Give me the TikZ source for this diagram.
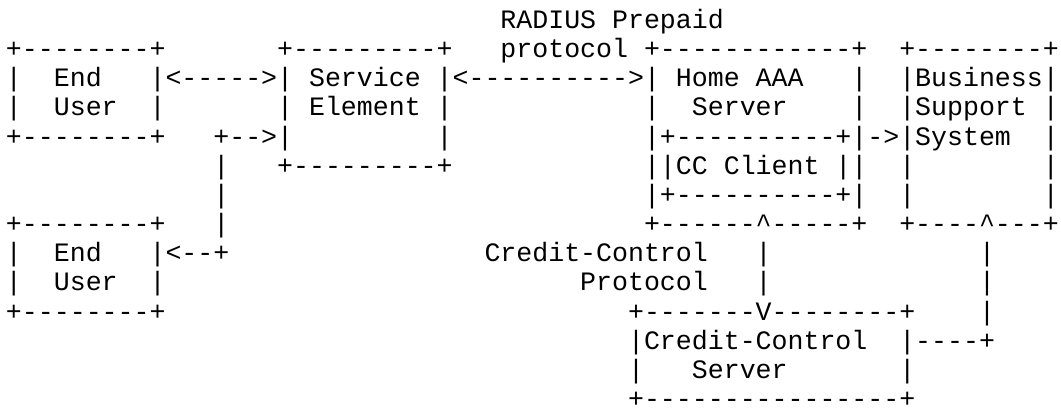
\documentclass[tikz,border=0pt]{standalone}
\usepackage{fontspec}
\newfontfamily\asciifont{Liberation Mono}[Ligatures=TeXOff]
\begin{document}
\begin{tikzpicture}[x=9.57pt, y=-17.502pt,
  ascii/.style={anchor=base west, inner sep=0pt, outer sep=0pt, font=\asciifont\fontsize{15.95pt}{17.5pt}\selectfont}]
\useasboundingbox (-0.376,0.026) rectangle (66.14,14.013);
\node[ascii] (radius) at (31,1) {RADIUS Prepaid};
\node[ascii] (eutop) at (0,2) {+--------+};
\node[ascii] (setop) at (17,2) {+---------+};
\node[ascii] (proto) at (31,2) {protocol +------------+};
\node[ascii] (bsstop) at (56,2) {+--------+};
\node[ascii] (euleft) at (0,3) {|};
\node[ascii] (euname) at (3,3) {End};
\node[ascii] (eulink) at (9,3) {|<----->|};
\node[ascii] (sename) at (19,3) {Service};
\node[ascii] (radlink) at (27,3) {|<---------->|};
\node[ascii] (aaaname) at (42,3) {Home AAA};
\node[ascii] (aaaright) at (53,3) {|};
\node[ascii] (bssname) at (56,3) {|Business|};
\node[ascii] (euleftb) at (0,4) {|};
\node[ascii] (eunameb) at (3,4) {User};
\node[ascii] (eurightb) at (9,4) {|};
\node[ascii] (seleft) at (17,4) {|};
\node[ascii] (senameb) at (19,4) {Element};
\node[ascii] (seright) at (27,4) {|};
\node[ascii] (aaaleft) at (40,4) {|};
\node[ascii] (aaanameb) at (43,4) {Server};
\node[ascii] (aaarightb) at (53,4) {|};
\node[ascii] (bssnameb) at (56,4) {|Support};
\node[ascii] (bssright) at (65,4) {|};
\node[ascii] (eubot) at (0,5) {+--------+};
\node[ascii] (splitin) at (13,5) {+-->|};
\node[ascii] (serightb) at (27,5) {|};
\node[ascii] (cctop) at (40,5) {|+----------+|->|System};
\node[ascii] (bssrightb) at (65,5) {|};
\node[ascii] (splitup) at (13,6) {|};
\node[ascii] (sebot) at (17,6) {+---------+};
\node[ascii] (ccname) at (40,6) {||CC Client};
\node[ascii] (ccright) at (52,6) {||};
\node[ascii] (bssleftc) at (56,6) {|};
\node[ascii] (bssrightc) at (65,6) {|};
\node[ascii] (splitmid) at (13,7) {|};
\node[ascii] (ccbot) at (40,7) {|+----------+|};
\node[ascii] (bssleftd) at (56,7) {|};
\node[ascii] (bssrightd) at (65,7) {|};
\node[ascii] (eutopb) at (0,8) {+--------+};
\node[ascii] (splitlow) at (13,8) {|};
\node[ascii] (aaabot) at (40,8) {+------\textasciicircum-----+};
\node[ascii] (bssbot) at (56,8) {+----\textasciicircum---+};
\node[ascii] (euleftc) at (0,9) {|};
\node[ascii] (eunamec) at (3,9) {End};
\node[ascii] (splitout) at (9,9) {|<--+};
\node[ascii] (ccplabel) at (30,9) {Credit-Control};
\node[ascii] (ccpa) at (47,9) {|};
\node[ascii] (bsslinka) at (61,9) {|};
\node[ascii] (euleftd) at (0,10) {|};
\node[ascii] (eunamed) at (3,10) {User};
\node[ascii] (eurightd) at (9,10) {|};
\node[ascii] (ccplabelb) at (36,10) {Protocol};
\node[ascii] (ccpb) at (47,10) {|};
\node[ascii] (bsslinkb) at (61,10) {|};
\node[ascii] (eubotb) at (0,11) {+--------+};
\node[ascii] (ccstop) at (39,11) {+-------V--------+};
\node[ascii] (bsslinkc) at (61,11) {|};
\node[ascii] (ccsname) at (39,12) {|Credit-Control};
\node[ascii] (bsslinkd) at (56,12) {|----+};
\node[ascii] (ccsleft) at (39,13) {|};
\node[ascii] (ccsnameb) at (43,13) {Server};
\node[ascii] (ccsright) at (56,13) {|};
\node[ascii] (ccsbot) at (39,14) {+----------------+};
\end{tikzpicture}
\end{document}
